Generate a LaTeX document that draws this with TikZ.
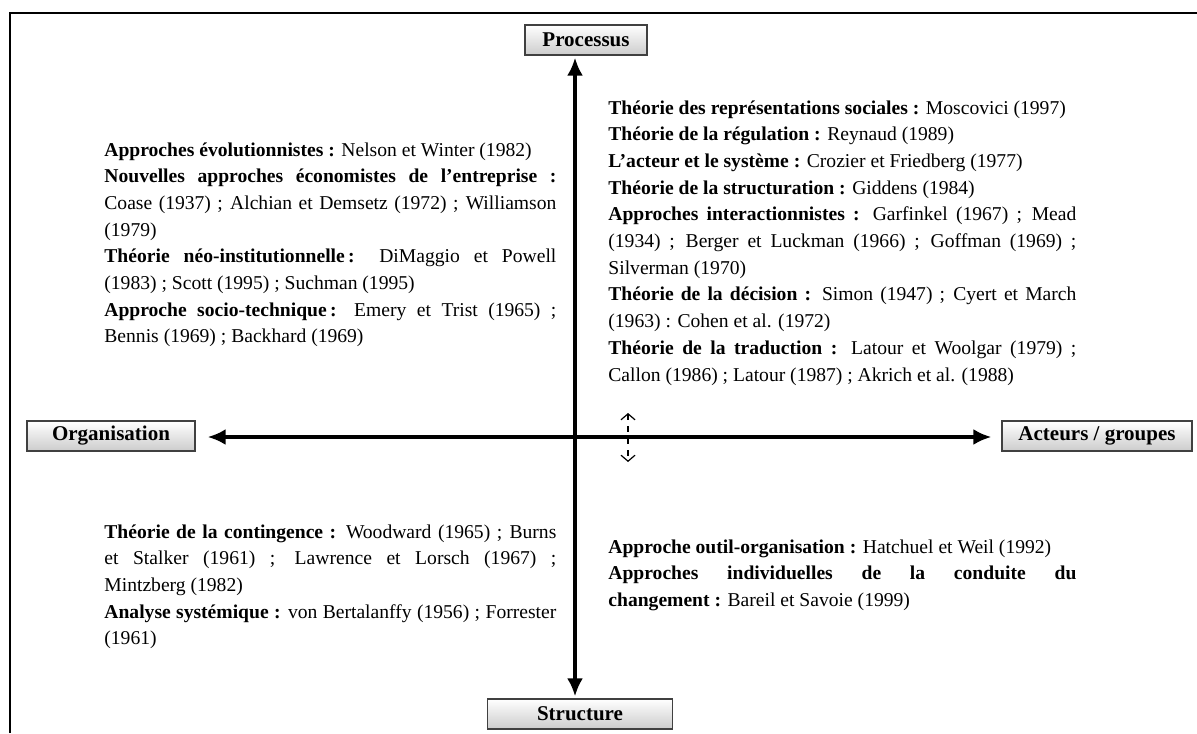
\documentclass[tikz,border=0pt]{standalone}
\usepackage{fontspec}
\setmainfont{Liberation Serif}
\usetikzlibrary{arrows.meta}
\hyphenpenalty=10000 % pas de coupure de mots
\exhyphenpenalty=10000
\tikzset{
        axebox/.style={ % Boites des quatre poles
            draw=black!75, line width=0.6pt,
            top color=white, bottom color=black!20,
            font=\fontsize{10.5}{12}\selectfont\bfseries,
            minimum height=15pt, inner sep=2pt},
        bloc/.style={ % Paragraphes justifies des quadrants
            anchor=base west, inner sep=0pt, align=justify,
            font=\fontsize{9.8}{13.35}\selectfont},
        axe/.style={ % Les deux grands axes
            line width=2.4pt,
            {Latex[length=9pt,width=8pt]}-{Latex[length=9pt,width=8pt]}},
        lien/.style={ % Fleche pointillee
            dashed, line width=0.6pt,
            {Straight Barb[length=3pt,width=7pt]}-{Straight Barb[length=3pt,width=7pt]}},
        cadre/.style={line width=1.3pt}
        }

\begin{document}
\begin{tikzpicture}[x=0.5pt,y=-0.5pt]
    \useasboundingbox (0,0) rectangle (1197,733);
    \draw[cadre] (10,733) |- (1197,13);

    % poles
    \node[axebox, minimum width=61pt]   (proc)   at (586,40)   {Processus};
    \node[axebox, minimum width=92.5pt] (struct) at (580,714)  {Structure};
    \node[axebox, minimum width=84pt]   (org)    at (111,436)  {Organisation};
    \node[axebox, minimum width=95pt]   (act)    at (1097,436) {Acteurs / groupes};

    \coordinate (o)    at (575,437);
    \coordinate (dtop) at (628,413);
    \coordinate (dbot) at (628,462);

    \draw[axe, shorten <=1pt, shorten >=1pt] (proc.south -| o) -- (struct.north -| o);
    \draw[axe, shorten <=6pt, shorten >=5pt] (org.east |- o) -- (act.west |- o);
    \draw[lien] (dtop) -- (dbot);

    % quadrants
    \node[bloc, text width=226pt] (evol) at (104,156) {%
        \textbf{Approches évolutionnistes :} Nelson et Winter (1982)\par
        \textbf{Nouvelles approches économistes de l’entreprise :}\linebreak
        Coase (1937) ; Alchian et Demsetz (1972) ; Williamson\linebreak (1979)\par
        \textbf{Théorie néo-institutionnelle\,:} DiMaggio et Powell\linebreak
        (1983) ; Scott (1995) ; Suchman (1995)\par
        \textbf{Approche socio-technique\,:} Emery et Trist (1965) ;\linebreak
        Bennis (1969) ; Backhard (1969)};

    \node[bloc, text width=234pt] (repr) at (608,114) {%
        \textbf{Théorie des représentations sociales :} Moscovici (1997)\par
        \textbf{Théorie de la régulation :} Reynaud (1989)\par
        \textbf{L’acteur et le système :} Crozier et Friedberg (1977)\par
        \textbf{Théorie de la structuration :} Giddens (1984)\par
        \textbf{Approches interactionnistes :} Garfinkel (1967) ; Mead\linebreak
        (1934) ; Berger et Luckman (1966) ; Goffman (1969) ;\linebreak
        Silverman (1970)\par
        \textbf{Théorie de la décision :} Simon (1947) ; Cyert et March\linebreak
        (1963) : Cohen et al. (1972)\par
        \textbf{Théorie de la traduction :} Latour et Woolgar (1979) ;\linebreak
        Callon (1986) ; Latour (1987) ; Akrich et al. (1988)};

    \node[bloc, text width=226pt] (cont) at (104,538) {%
        \textbf{Théorie de la contingence :} Woodward (1965) ; Burns\linebreak
        et Stalker (1961) ; Lawrence et Lorsch (1967) ;\linebreak
        Mintzberg (1982)\par
        \textbf{Analyse systémique :} von Bertalanffy (1956) ; Forrester\linebreak
        (1961)};

    \node[bloc, text width=234pt] (outil) at (608,553) {%
        \textbf{Approche outil-organisation :} Hatchuel et Weil (1992)\par
        \textbf{Approches individuelles de la conduite du}\linebreak
        \textbf{changement :} Bareil et Savoie (1999)};
\end{tikzpicture}
\end{document}
